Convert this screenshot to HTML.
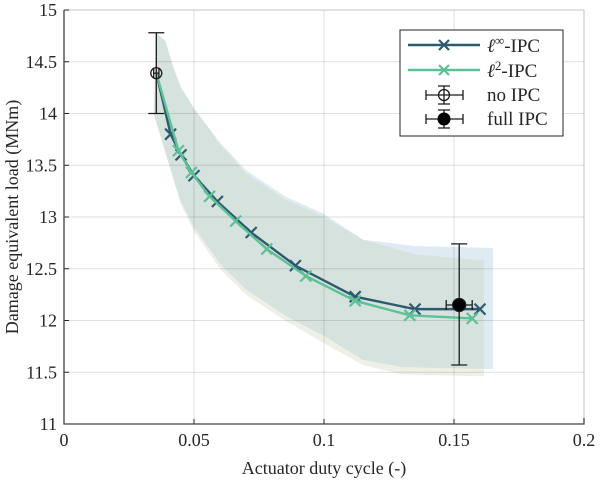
<!DOCTYPE html>
<html><head><meta charset="utf-8"><style>
body{margin:0;background:#fff;width:600px;height:482px;overflow:hidden}
text{font-family:"Liberation Serif",serif;fill:#262626}
</style></head><body>
<svg id="chart" width="600" height="482" viewBox="0 0 600 482" xmlns="http://www.w3.org/2000/svg"></svg>
<script>
const xTicks=[0,0.05,0.1,0.15,0.2];
const xTickLabels=["0","0.05","0.1","0.15","0.2"];
const yTicks=[11,11.5,12,12.5,13,13.5,14,14.5,15];
const yTickLabels=["11","11.5","12","12.5","13","13.5","14","14.5","15"];
const linfX=[0.0355,0.041,0.045,0.050,0.059,0.072,0.089,0.112,0.135,0.160];
const linfY=[14.39,13.80,13.60,13.40,13.15,12.85,12.53,12.23,12.11,12.11];
const l2X=[0.0355,0.044,0.049,0.056,0.066,0.078,0.093,0.112,0.133,0.157];
const l2Y=[14.39,13.64,13.43,13.20,12.96,12.69,12.43,12.19,12.05,12.02];
const bandBlueX=[0.0355,0.039,0.042,0.045,0.05,0.06,0.07,0.085,0.1,0.115,0.135,0.165,0.165,0.13,0.115,0.1,0.085,0.07,0.06,0.05,0.045,0.043,0.0345];
const bandBlueY=[14.78,14.70,14.45,14.25,14.05,13.72,13.45,13.20,13.03,12.78,12.72,12.70,11.53,11.55,11.62,11.85,12.05,12.30,12.55,12.90,13.15,13.30,14.00];
const bandYelX=[0.0355,0.039,0.042,0.045,0.05,0.06,0.07,0.085,0.1,0.115,0.135,0.1615,0.1615,0.13,0.115,0.1,0.085,0.07,0.06,0.05,0.045,0.043,0.0345];
const bandYelY=[14.78,14.70,14.45,14.25,14.05,13.70,13.42,13.17,13.00,12.78,12.64,12.58,11.46,11.48,11.57,11.78,12.00,12.25,12.50,12.86,13.12,13.28,14.00];
const noIPC={x:0.0355,y:14.39,ylo:14.0,yhi:14.78,xlo:0.0345,xhi:0.0365};
const fullIPC={x:0.152,y:12.15,ylo:11.57,yhi:12.74,xlo:0.147,xhi:0.157};

const L=64,R=584,T=10,B=424;
const sx=v=>L+(v-0)/(0.2)*(R-L);
const sy=v=>B-(v-11)/4*(B-T);
const svg=document.getElementById('chart');
const NS='http://www.w3.org/2000/svg';
function mk(tag,attrs,parent){const e=document.createElementNS(NS,tag);for(const k in attrs)e.setAttribute(k,attrs[k]);(parent||svg).appendChild(e);return e;}

let p=mk('polygon',{points:bandBlueX.map((x,i)=>sx(x)+','+sy(bandBlueY[i])).join(' '),fill:'rgb(150,190,215)','fill-opacity':'0.3'});


p=mk('polygon',{points:bandYelX.map((x,i)=>sx(x)+','+sy(bandYelY[i])).join(' '),fill:'rgb(195,205,175)','fill-opacity':'0.3'});



xTicks.forEach((t,i)=>{
  let g=mk('line',{x1:sx(t),x2:sx(t),y1:T,y2:B,stroke:'#262626','stroke-opacity':'0.15','stroke-width':1});
  
  
  let tx=mk('text',{x:sx(t),y:B+22,'text-anchor':'middle','font-size':18});
  tx.textContent=xTickLabels[i];
  
  
  mk('line',{x1:sx(t),x2:sx(t),y1:B,y2:B-5,stroke:'#262626'});
});
yTicks.forEach((t,i)=>{
  let g=mk('line',{x1:L,x2:R,y1:sy(t),y2:sy(t),stroke:'#262626','stroke-opacity':'0.15','stroke-width':1});
  
  
  let tx=mk('text',{x:L-7,y:sy(t)+6,'text-anchor':'end','font-size':18});
  tx.textContent=yTickLabels[i];
  
  
  mk('line',{x1:L,x2:L+5,y1:sy(t),y2:sy(t),stroke:'#262626'});
});
let ax=mk('rect',{x:L,y:T,width:R-L,height:B-T,fill:'none',stroke:'#262626','stroke-opacity':'0.15'});


let axl=mk('path',{d:`M${L},${T}V${B}H${R}v-6`,fill:'none',stroke:'#404040','stroke-width':1.3});



function series(xs,ys,col,name){
  let pl=mk('polyline',{points:xs.map((x,i)=>sx(x)+','+sy(ys[i])).join(' '),fill:'none',stroke:col,'stroke-width':2.4});
  
  
  xs.forEach((x,i)=>{ if(i===0)return;
    const cx=sx(x),cy=sy(ys[i]),s=5.5;
    let m=mk('path',{d:`M${cx-s},${cy-s}L${cx+s},${cy+s}M${cx-s},${cy+s}L${cx+s},${cy-s}`,stroke:col,'stroke-width':2.2});
    
    
  });
}
series(linfX,linfY,'#2d5a6e','linf');
series(l2X,l2Y,'#5ec195','l2');

function errbar(d,filled,name){
  const g=mk('g',{stroke:'#1a1a1a','stroke-width':1.3,fill:'none'});
  
  
  const cx=sx(d.x),cy=sy(d.y);
  mk('path',{d:`M${cx},${sy(d.ylo)}V${sy(d.yhi)}M${cx-8},${sy(d.ylo)}h16M${cx-8},${sy(d.yhi)}h16M${sx(d.xlo)},${cy}H${sx(d.xhi)}M${sx(d.xlo)},${cy-5}v10M${sx(d.xhi)},${cy-5}v10`},g);
  mk('circle',{cx:cx,cy:cy,r:filled?6.5:5.5,fill:filled?'#000':'none'},g);
}
errbar(noIPC,false,'no-ipc-point');
errbar(fullIPC,true,'full-ipc-point');

const lg=mk('g',{});


mk('rect',{x:400,y:30,width:163,height:106,fill:'#fff',stroke:'#262626','stroke-width':1},lg);
mk('path',{d:'M408,45H480',stroke:'#2d5a6e','stroke-width':2.4},lg);
mk('path',{d:'M439,40l10,10M439,50l10,-10',stroke:'#2d5a6e','stroke-width':2.2},lg);
mk('path',{d:'M408,70H480',stroke:'#5ec195','stroke-width':2.4},lg);
mk('path',{d:'M439,65l10,10M439,75l10,-10',stroke:'#5ec195','stroke-width':2.2},lg);
mk('path',{d:'M426,95H463M426,90v10M463,90v10M444,86v18M438,86h12M438,104h12',stroke:'#1a1a1a','stroke-width':1.3},lg);
mk('circle',{cx:444,cy:95,r:5.5,fill:'none',stroke:'#1a1a1a','stroke-width':1.3},lg);
mk('path',{d:'M426,119H463M426,114v10M463,114v10M444,110v18M438,110h12M438,128h12',stroke:'#1a1a1a','stroke-width':1.3},lg);
mk('circle',{cx:444,cy:119,r:6.5,fill:'#000'},lg);
const labs=[['ℓ','∞','-IPC',52],['ℓ','2','-IPC',77],['no IPC','','',101],['full IPC','','',125]];
labs.forEach(l=>{
  const t=mk('text',{x:487,y:l[3],'font-size':19},lg);
  const a=document.createElementNS(NS,'tspan');a.textContent=l[0];a.setAttribute('font-style',l[1]?'italic':'normal');t.appendChild(a);
  if(l[1]){const b=document.createElementNS(NS,'tspan');b.setAttribute('dy','-7');b.setAttribute('font-size','13');b.textContent=l[1];t.appendChild(b);
  const c=document.createElementNS(NS,'tspan');c.setAttribute('dy','7');c.textContent=l[2];t.appendChild(c);}
  
  
});

let xt=mk('text',{x:(L+R)/2,y:474,'text-anchor':'middle','font-size':18});
xt.textContent='Actuator duty cycle (-)';


let yt=mk('text',{x:0,y:0,'text-anchor':'middle','font-size':18,transform:`translate(18,${(T+B)/2}) rotate(-90)`});
yt.textContent='Damage equivalent load (MNm)';


</script>
</body></html>
